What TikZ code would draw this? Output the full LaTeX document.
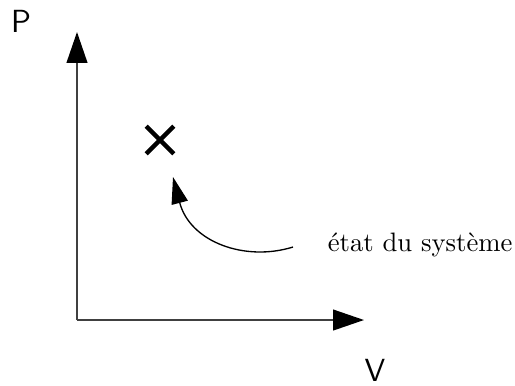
\documentclass[tikz,border=0pt]{standalone}
\usepackage{tikz}
\usetikzlibrary{arrows.meta}

\begin{document}
\begin{tikzpicture}[x=0.375pt,y=-0.375pt,line width=0.6pt]
\tikzset{axe/.style={draw=black!75,-{Triangle[length=11.6pt,width=7.8pt,color=black]}},
  lbl/.style={font=\sffamily\large,inner sep=0pt}}
\useasboundingbox (0,0) rectangle (515,385);
\coordinate (O) at (77,320);
\coordinate (Ptip) at (77,32);
\coordinate (Vtip) at (364,320);
\draw[axe] (O) -- (Ptip);
\draw[axe] (O) -- (Vtip);
\node[lbl] (P) at (21,21) {P};
\node[lbl] (V) at (375,370) {V};
\node[minimum size=26*0.375pt,inner sep=0pt] (etat0) at (160,140) {};
\draw[line width=1.7pt] (etat0.north west) -- (etat0.south east)
  (etat0.north east) -- (etat0.south west);
\node[anchor=west,inner sep=0pt] (txt) at (327,245) {état du système};
\coordinate (cstart) at (293,247);
\coordinate (cend) at (173,177);
\draw[line width=0.5pt,-{Triangle[length=10pt,width=6.2pt]}] (cstart) .. controls (245,262) and (190,242) .. (cend);
\end{tikzpicture}
\end{document}
